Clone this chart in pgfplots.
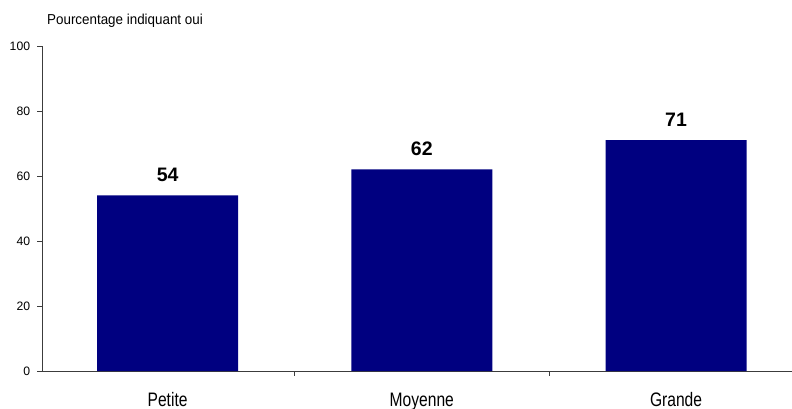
\documentclass[border=0pt]{standalone}
\usepackage{fontspec}
\setmainfont{Liberation Sans}
\newfontfamily\narrowfont[FakeStretch=0.8]{Liberation Sans}
\newfontfamily\ylabfont[FakeStretch=0.93]{Liberation Sans}
\usepackage{pgfplots}
\pgfplotsset{compat=1.18}
\definecolor{barnavy}{RGB}{0,0,128}
\definecolor{axgray}{RGB}{60,60,60}
\begin{document}
\begin{tikzpicture}
\path[use as bounding box] (0,0) rectangle (792bp,409bp);
\begin{axis}[
  at={(42bp,38bp)}, anchor=south west,
  scale only axis, width=750bp, height=325bp,
  xmin=-0.494, xmax=2.456, ymin=0, ymax=100,
  clip=false,
  axis x line=bottom, axis y line=left,
  axis line style={-, axgray, line width=0.9bp},
  ytick={0,20,...,100},
  xtick={0.5,1.5}, xticklabels={},
  extra x ticks={0,1,2}, extra x tick labels={Petite,Moyenne,Grande},
  extra x tick style={major tick length=0pt, tick style={draw=none},
    xticklabel style={font=\narrowfont\fontsize{19.5bp}{22bp}\selectfont, anchor=base, inner sep=0pt, yshift=-35bp}},
  tick style={axgray, line width=0.9bp},
  tick align=outside, major tick length=4.5bp,
  /pgf/number format/assume math mode=true,
  yticklabel style={font=\fontsize{12.2bp}{14bp}\selectfont, anchor=east, inner sep=0pt, xshift=-7.2bp},
  ybar, bar width=141bp, bar shift=0pt,
  nodes near coords,
  nodes near coords style={font=\bfseries\fontsize{19.5bp}{22bp}\selectfont, anchor=base, inner sep=0pt, yshift=13.7bp},
]
\addplot[fill=barnavy, draw=none] coordinates {(0,54) (1,62) (2,71)};
\end{axis}
\node[anchor=base west, inner sep=0pt, font=\ylabfont\fontsize{14.4bp}{17bp}\selectfont] at (47bp,384.7bp) {Pourcentage indiquant oui};
\end{tikzpicture}
\end{document}
